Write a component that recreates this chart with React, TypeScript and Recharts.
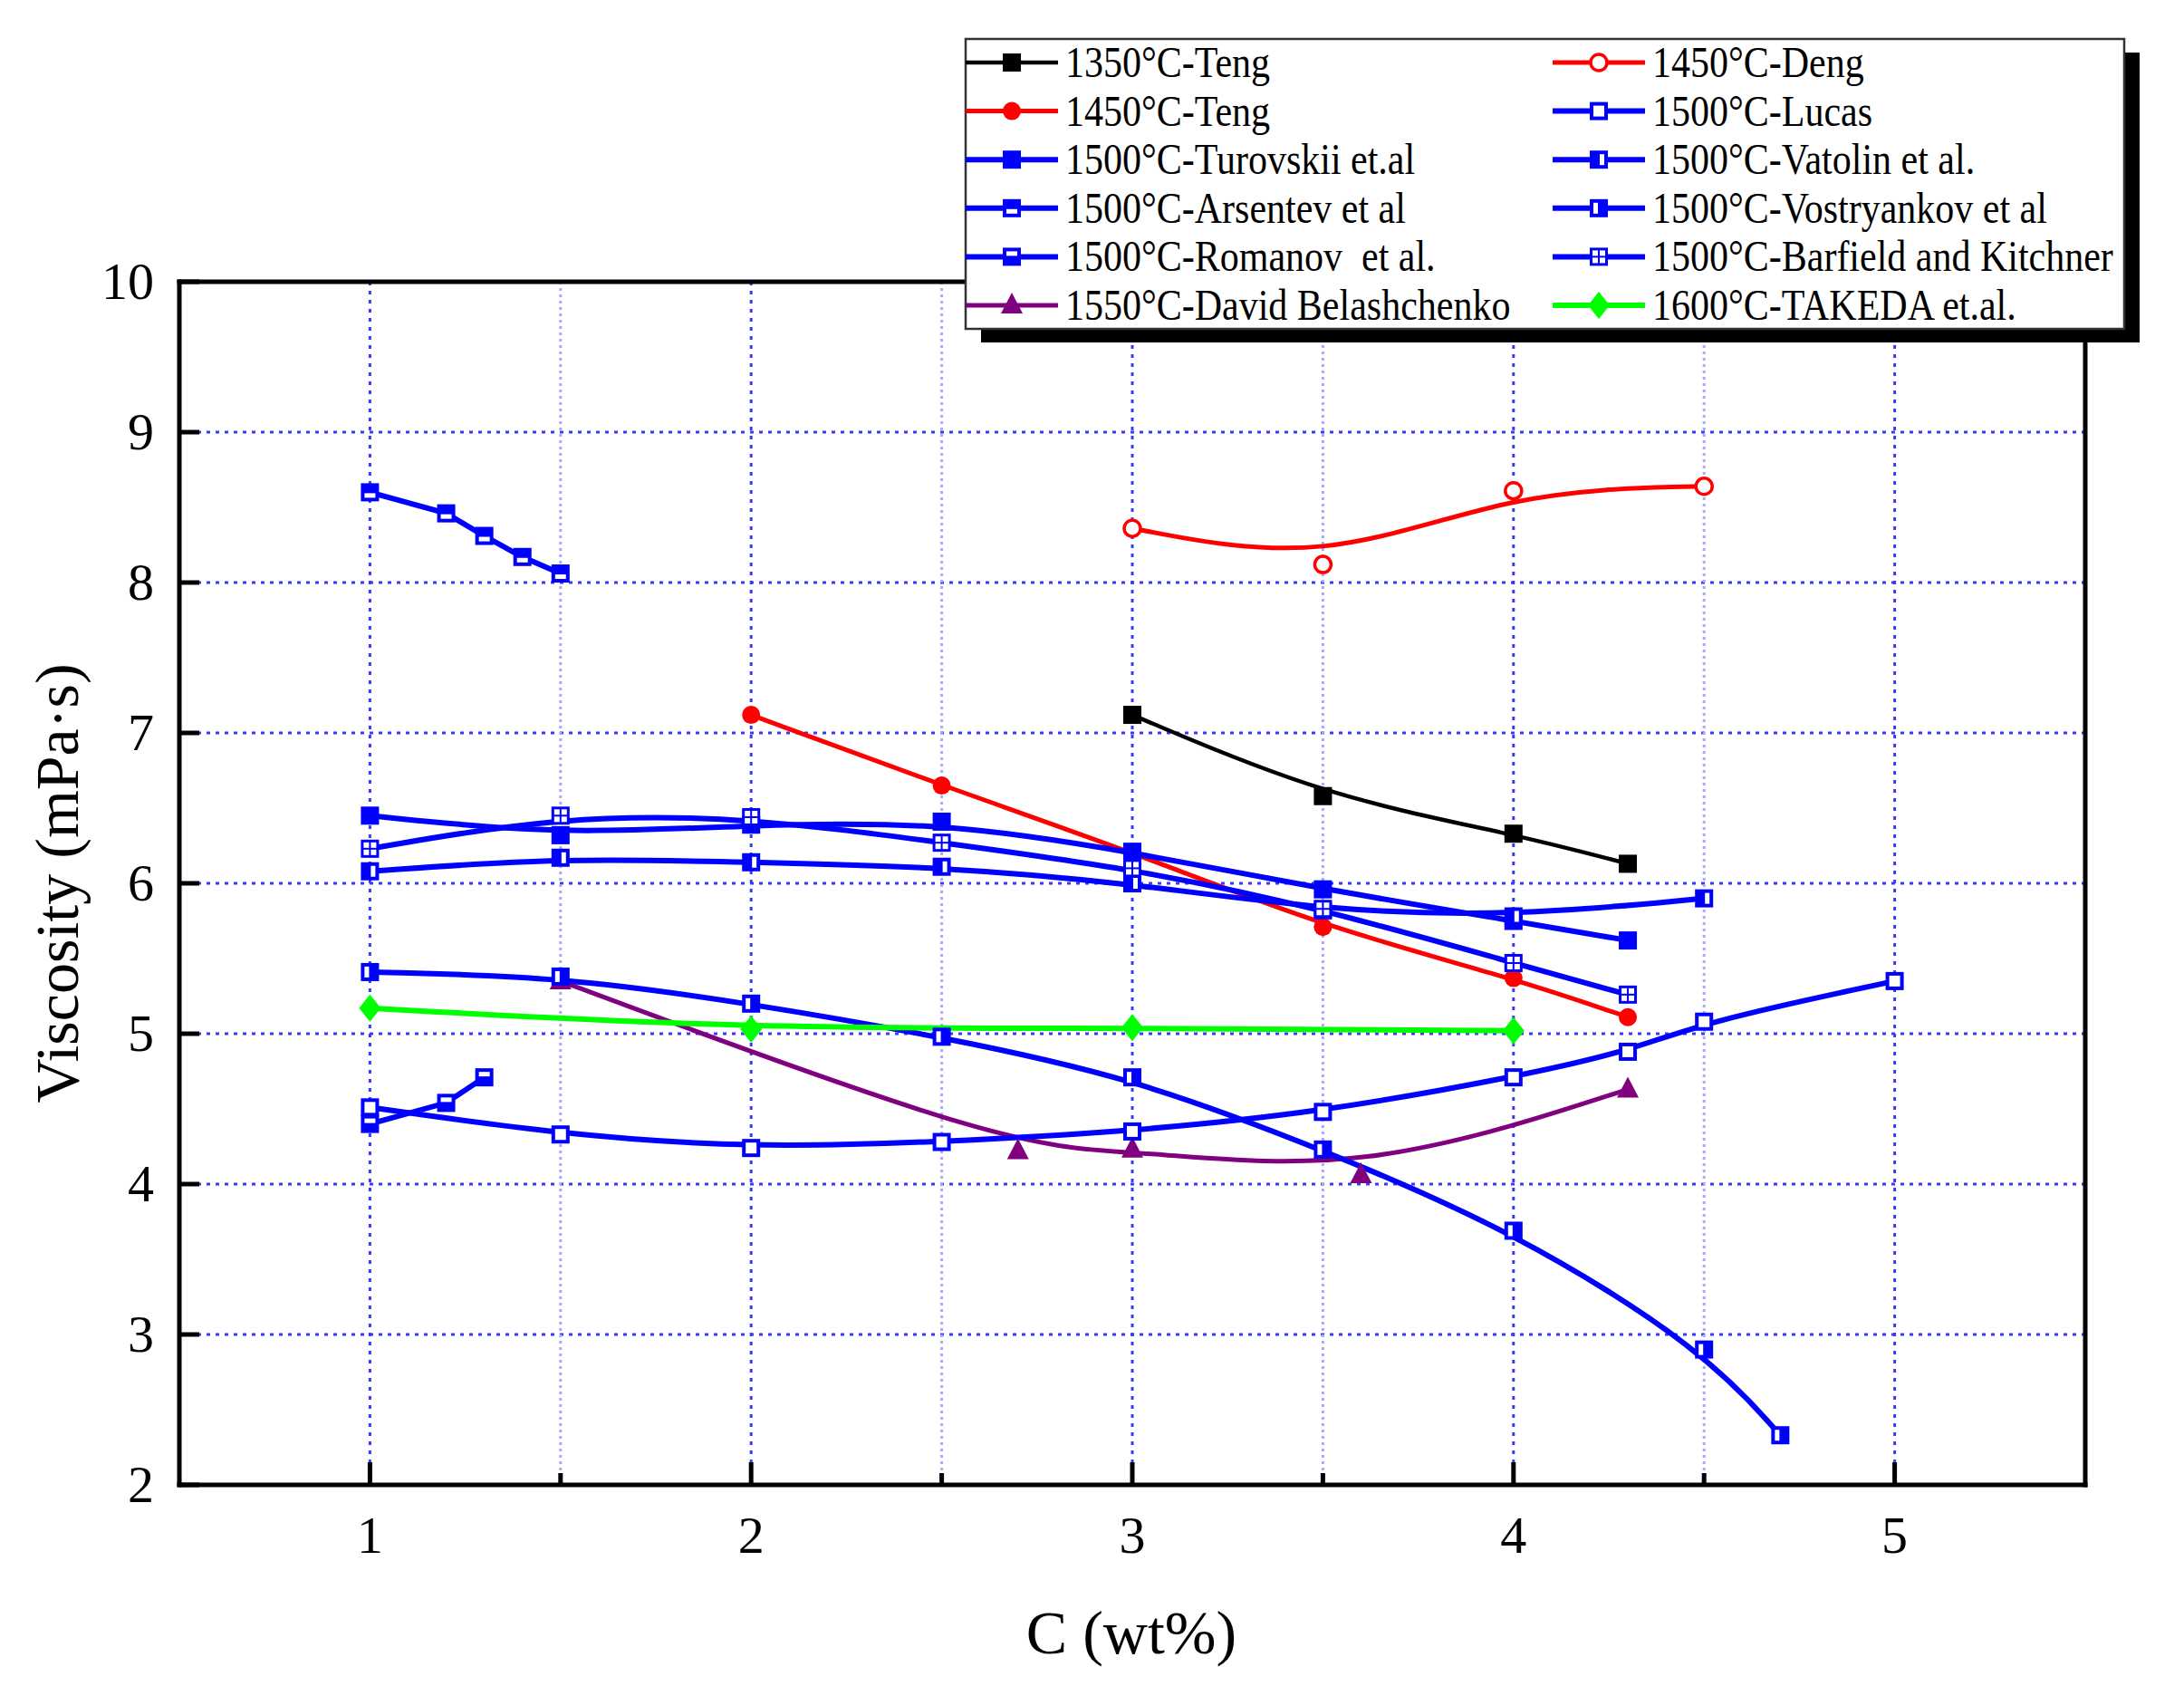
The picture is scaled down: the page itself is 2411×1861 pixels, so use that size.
import React from "react";
import { LineChart, Line, XAxis, YAxis, CartesianGrid, ReferenceLine } from "recharts";

const W = 2411;
const H = 1861;
const SERIF = "'Liberation Serif', 'Times New Roman', serif";

const xTicks = [1, 1.5, 2, 2.5, 3, 3.5, 4, 4.5, 5];
const yTicks = [2, 3, 4, 5, 6, 7, 8, 9, 10];

// C (wt%) / viscosity (mPa·s) per data set
const teng1350X = [3, 3.5, 4, 4.3];
const teng1350Y = [7.12, 6.58, 6.33, 6.13];
const deng1450X = [3, 3.5, 4, 4.5];
const deng1450Y = [8.36, 8.12, 8.61, 8.64];
const teng1450X = [2, 2.5, 3, 3.5, 4, 4.3];
const teng1450Y = [7.12, 6.65, 6.21, 5.71, 5.37, 5.11];
const lucasX = [1, 1.5, 2, 2.5, 3, 3.5, 4, 4.3, 4.5, 5];
const lucasY = [4.51, 4.33, 4.24, 4.28, 4.35, 4.48, 4.71, 4.88, 5.08, 5.35];
const turovskiiX = [1, 1.5, 2, 2.5, 3, 3.5, 4, 4.3];
const turovskiiY = [6.45, 6.32, 6.39, 6.41, 6.21, 5.96, 5.75, 5.62];
const vatolinX = [1, 1.5, 2, 2.5, 3, 3.5, 4, 4.5];
const vatolinY = [6.08, 6.17, 6.14, 6.11, 6.0, 5.82, 5.78, 5.9];
const arsentevX = [1, 1.2, 1.3, 1.4, 1.5];
const arsentevY = [8.6, 8.46, 8.31, 8.17, 8.06];
const vostryankovX = [1, 1.5, 2, 2.5, 3, 3.5, 4, 4.5, 4.7];
const vostryankovY = [5.41, 5.38, 5.2, 4.98, 4.71, 4.23, 3.69, 2.9, 2.33];
const romanovX = [1, 1.2, 1.3];
const romanovY = [4.4, 4.54, 4.71];
const barfieldX = [1, 1.5, 2, 2.5, 3, 3.5, 4, 4.3];
const barfieldY = [6.23, 6.45, 6.44, 6.27, 6.1, 5.83, 5.47, 5.26];
const belashchenkoX = [1.5, 2.7, 3, 3.6, 4.3];
const belashchenkoY = [5.35, 4.22, 4.23, 4.06, 4.63];
const takedaX = [1, 2, 3, 4];
const takedaY = [5.17, 5.03, 5.04, 5.02];

const zip = (xs: number[], ys: number[]) => xs.map((x, i) => ({ x, y: ys[i] }));

type Kind =
  | "square" | "open" | "topFilled" | "bottomFilled" | "leftFilled" | "rightFilled" | "cross"
  | "circle" | "openCircle" | "triangle" | "diamond";

function Marker({ cx, cy, kind, color }: { cx: number; cy: number; kind: Kind; color: string }) {
  const h = 10;
  if (kind === "circle") return <circle cx={cx} cy={cy} r={10} fill={color} />;
  if (kind === "openCircle") return <circle cx={cx} cy={cy} r={9} fill="#fff" stroke={color} strokeWidth={3.5} />;
  if (kind === "triangle")
    return <polygon points={`${cx},${cy - 14} ${cx - 12},${cy + 9} ${cx + 12},${cy + 9}`} fill={color} />;
  if (kind === "diamond")
    return <polygon points={`${cx},${cy - 15} ${cx + 12},${cy} ${cx},${cy + 15} ${cx - 12},${cy}`} fill={color} />;
  const holes: JSX.Element[] = [];
  const i = 4;
  if (kind === "open") holes.push(<rect key="a" x={cx - h + i} y={cy - h + i} width={2 * h - 2 * i} height={2 * h - 2 * i} fill="#fff" />);
  if (kind === "topFilled") holes.push(<rect key="a" x={cx - h + i} y={cy + 1} width={2 * h - 2 * i} height={h - i - 1} fill="#fff" />);
  if (kind === "bottomFilled") holes.push(<rect key="a" x={cx - h + i} y={cy - h + i} width={2 * h - 2 * i} height={h - i - 1} fill="#fff" />);
  if (kind === "leftFilled") holes.push(<rect key="a" x={cx + 1} y={cy - h + i} width={h - i - 1} height={2 * h - 2 * i} fill="#fff" />);
  if (kind === "rightFilled") holes.push(<rect key="a" x={cx - h + i} y={cy - h + i} width={h - i - 1} height={2 * h - 2 * i} fill="#fff" />);
  if (kind === "cross") {
    const s = h - 4;
    holes.push(
      <rect key="a" x={cx - h + 3} y={cy - h + 3} width={s} height={s} fill="#fff" />,
      <rect key="b" x={cx + 1} y={cy - h + 3} width={s} height={s} fill="#fff" />,
      <rect key="c" x={cx - h + 3} y={cy + 1} width={s} height={s} fill="#fff" />,
      <rect key="d" x={cx + 1} y={cy + 1} width={s} height={s} fill="#fff" />
    );
  }
  return (
    <g>
      <rect x={cx - h} y={cy - h} width={2 * h} height={2 * h} fill={color} />
      {holes}
    </g>
  );
}

const dotOf = (kind: Kind, color: string) => (p: any) =>
  p.cx == null || p.cy == null ? <g key={p.index} /> : (
    <g key={`${kind}-${p.index}`}>
      <Marker cx={p.cx} cy={p.cy} kind={kind} color={color} />
    </g>
  );

const BLUE = "#0000ff";
const series = [
  { name: "1350°C-Teng", xs: teng1350X, ys: teng1350Y, color: "#000000", kind: "square" as Kind, width: 4.5 },
  { name: "1450°C-Teng", xs: teng1450X, ys: teng1450Y, color: "#ff0000", kind: "circle" as Kind, width: 5 },
  { name: "1500°C-Turovskii et.al", xs: turovskiiX, ys: turovskiiY, color: BLUE, kind: "square" as Kind, width: 6 },
  { name: "1500°C-Arsentev et al", xs: arsentevX, ys: arsentevY, color: BLUE, kind: "topFilled" as Kind, width: 6 },
  { name: "1500°C-Romanov  et al.", xs: romanovX, ys: romanovY, color: BLUE, kind: "bottomFilled" as Kind, width: 6 },
  { name: "1550°C-David Belashchenko", xs: belashchenkoX, ys: belashchenkoY, color: "#800080", kind: "triangle" as Kind, width: 5 },
  { name: "1450°C-Deng", xs: deng1450X, ys: deng1450Y, color: "#ff0000", kind: "openCircle" as Kind, width: 5 },
  { name: "1500°C-Lucas", xs: lucasX, ys: lucasY, color: BLUE, kind: "open" as Kind, width: 6 },
  { name: "1500°C-Vatolin et al.", xs: vatolinX, ys: vatolinY, color: BLUE, kind: "leftFilled" as Kind, width: 6 },
  { name: "1500°C-Vostryankov et al", xs: vostryankovX, ys: vostryankovY, color: BLUE, kind: "rightFilled" as Kind, width: 6 },
  { name: "1500°C-Barfield and Kitchner", xs: barfieldX, ys: barfieldY, color: BLUE, kind: "cross" as Kind, width: 6 },
  { name: "1600°C-TAKEDA et.al.", xs: takedaX, ys: takedaY, color: "#00ff00", kind: "diamond" as Kind, width: 6 },
];

const XTick = (p: any) => {
  const { x, y, payload } = p;
  const v = payload.value as number;
  const major = Number.isInteger(v);
  return (
    <g>
      <line x1={x} x2={x} y1={y} y2={y - (major ? 25 : 13)} stroke="#000" strokeWidth={5} />
      {major && (
        <text x={x} y={y + 75} textAnchor="middle" fontFamily={SERIF} fontSize={58} fill="#000">
          {v}
        </text>
      )}
    </g>
  );
};

const YTick = (p: any) => {
  const { x, y, payload } = p;
  return (
    <g>
      <line x1={x} x2={x + 22} y1={y} y2={y} stroke="#000" strokeWidth={5} />
      <text x={x - 28} y={y + 19} textAnchor="end" fontFamily={SERIF} fontSize={58} fill="#000">
        {payload.value}
      </text>
    </g>
  );
};

const vGrid = (p: any) => {
  const major = p.index % 2 === 0;
  return (
    <line
      key={p.key ?? `v-${p.index}`}
      x1={p.x1} x2={p.x2} y1={p.y1} y2={p.y2}
      stroke={major ? "#3a3aff" : "#a8a8ff"}
      strokeWidth={3}
      strokeDasharray={major ? "4 6" : "3 4"}
    />
  );
};

const hGrid = (p: any) => (
  <line
    key={p.key ?? `h-${p.index}`}
    x1={p.x1} x2={p.x2} y1={p.y1} y2={p.y2}
    stroke="#3a3aff"
    strokeWidth={3}
    strokeDasharray="4 6"
  />
);

// legend layout: left column first six, right column last six
const LEG = { left: 1066, top: 43, width: 1279, height: 320, row0: 69, step: 53.6 };
const legCols = [1066, 1714];

function LegendOverlay() {
  return (
    <g>
      <rect x={LEG.left + 17} y={LEG.top + 15} width={LEG.width} height={LEG.height} fill="#000" />
      <rect x={LEG.left} y={LEG.top} width={LEG.width} height={LEG.height} fill="#fff" stroke="#333" strokeWidth={2.5} />
      {series.map((s, i) => {
        const col = i < 6 ? 0 : 1;
        const row = i % 6;
        const x0 = legCols[col];
        const cy = LEG.row0 + row * LEG.step;
        return (
          <g key={s.name}>
            <line x1={x0} x2={x0 + 102} y1={cy} y2={cy} stroke={s.color} strokeWidth={s.width} />
            <Marker cx={x0 + 51} cy={cy} kind={s.kind} color={s.color} />
            <text
              transform={`translate(${x0 + 110},${cy + 16}) scale(1,1.18)`}
              fontFamily={SERIF}
              fontSize={42}
              fill="#000"
              style={{ whiteSpace: "pre" }}
            >
              {s.name}
            </text>
          </g>
        );
      })}
    </g>
  );
}

export default function App() {
  return (
    <div style={{ position: "relative", width: W, height: H, background: "#fff" }}>
      <style>{`body{margin:0;background:#fff}`}</style>
      <LineChart width={W} height={H} margin={{ top: 311, right: 109, bottom: 162, left: 138 }}>
        <CartesianGrid vertical={vGrid} horizontal={hGrid} />
        <XAxis
          dataKey="x"
          type="number"
          domain={[0.5, 5.5]}
          ticks={xTicks}
          interval={0}
          height={60}
          tickSize={0}
          tickMargin={0}
          tickLine={false}
          tick={<XTick />}
          axisLine={{ stroke: "#000", strokeWidth: 5, strokeLinecap: "square" }}
        />
        <YAxis
          dataKey="y"
          type="number"
          domain={[2, 10]}
          ticks={yTicks}
          interval={0}
          width={60}
          tickSize={0}
          tickMargin={0}
          tickLine={false}
          tick={<YTick />}
          axisLine={{ stroke: "#000", strokeWidth: 5, strokeLinecap: "square" }}
        />
        <ReferenceLine y={10} stroke="#000" strokeWidth={5} strokeLinecap="square" />
        <ReferenceLine x={5.5} stroke="#000" strokeWidth={5} strokeLinecap="square" />
        {series.map((s) => (
          <Line
            key={s.name}
            data={zip(s.xs, s.ys)}
            dataKey="y"
            name={s.name}
            type={s.name.includes("Arsentev") || s.name.includes("Romanov") ? "linear" : "basis"}
            stroke={s.color}
            strokeWidth={s.width}
            dot={dotOf(s.kind, s.color)}
            activeDot={false}
            isAnimationActive={false}
          />
        ))}
      </LineChart>
      <svg width={W} height={H} style={{ position: "absolute", left: 0, top: 0, pointerEvents: "none" }}>
        <LegendOverlay />
        <text x={1249} y={1825} textAnchor="middle" fontFamily={SERIF} fontSize={68} fill="#000">
          C (wt%)
        </text>
        <text
          transform="translate(63,975) rotate(-90)"
          textAnchor="middle"
          dominantBaseline="central"
          fontFamily={SERIF}
          fontSize={68}
          fill="#000"
        >
          Viscosity (mPa·s)
        </text>
      </svg>
    </div>
  );
}
